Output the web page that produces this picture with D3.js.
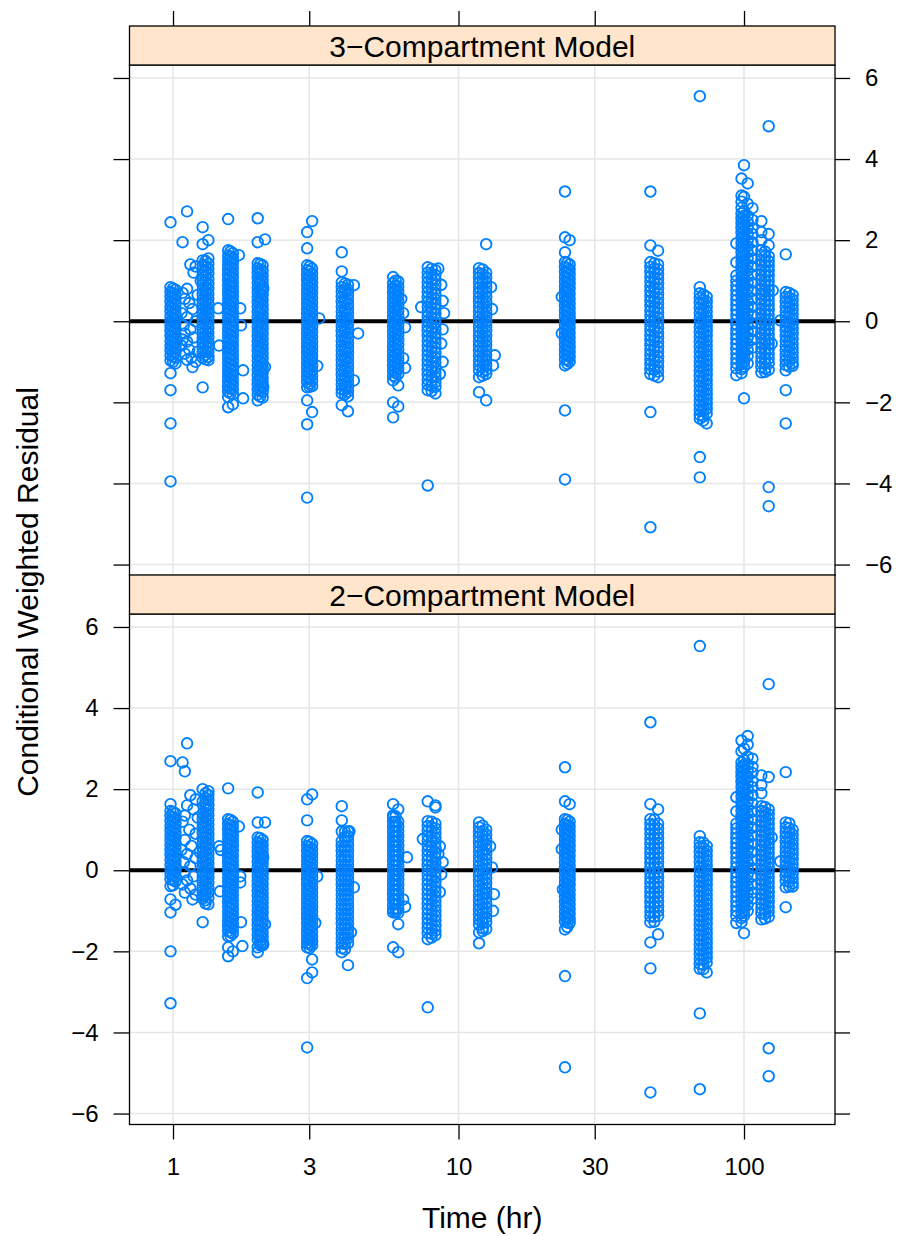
<!DOCTYPE html>
<html>
<head>
<meta charset="utf-8">
<script src="https://cdn.jsdelivr.net/npm/d3@7"></script>
<style>
  body { margin: 0; background: #fff; }
  svg { display: block; }
  text { font-family: "Liberation Sans", Arial, Helvetica, sans-serif; fill: #000; }
</style>
</head>
<body>
<svg id="chart" width="898" height="1236"></svg>
<script>
// Actual sampling times (hr); each column of residuals below belongs to one of these.
const sampleTimes = [0.98, 1.02, 1.27, 1.33, 1.56, 1.62, 1.98, 2.06, 2.95, 3.07, 3.9, 4.1,
  5.9, 6.15, 7.8, 8.3, 11.8, 12.5, 23.6, 24.5, 47, 50, 70, 74, 94, 98, 100, 103, 107, 115, 122, 140, 148];
// Further sampling times falling between the ones above
const midTimes = [1.0, 1.3, 1.59, 2.02, 3.01, 4.0, 6.02, 8.05, 12.15, 24.05, 48.5, 72, 118.5, 144];

// Conditional weighted residuals, 3-compartment fit, one list per sampling time
const cwres3 = [
  [2.44, 0.84, 0.72, 0.6, 0.48, 0.36, 0.25, 0.12, 0.0, -0.12, -0.24, -0.36, -0.48, -0.6, -0.72, -0.84, -0.97, -1.28, -1.70, -2.52, -3.95], // 0.98
  [0.78, 0.66, 0.54, 0.42, 0.3, 0.18, 0.06, -0.06, -0.18, -0.3, -0.42, -0.54, -0.66, -0.78, -0.9, -1.04], // 1.02
  [2.32, 1.9, 1.5, 1.38, 1.26, 1.14, 1.02, 0.9, 0.78, 0.66, 0.54, 0.42, 0.3, 0.18, 0.06, -0.06, -0.18, -0.3, -0.42, -0.54, -0.66, -0.78, -0.9, -1.63], // 1.27
  [2.0, 1.55, 1.42, 1.3, 1.18, 1.05, 0.92, 0.8, 0.68, 0.56, 0.44, 0.32, 0.2, 0.08, -0.04, -0.16, -0.28, -0.4, -0.52, -0.64, -0.76, -0.88, -0.96], // 1.33
  [2.52, 1.75, 1.62, 1.5, 1.38, 1.26, 1.14, 1.02, 0.9, 0.78, 0.66, 0.54, 0.42, 0.3, 0.18, 0.06, -0.06, -0.18, -0.3, -0.42, -0.54, -0.66, -0.78, -0.9, -1.02, -1.14, -1.26, -1.38, -1.5, -1.62, -1.74, -1.87, -2.12], // 1.56
  [1.68, 1.56, 1.44, 1.32, 1.2, 1.08, 0.96, 0.84, 0.72, 0.6, 0.48, 0.36, 0.24, 0.12, 0.0, -0.12, -0.24, -0.36, -0.48, -0.6, -0.72, -0.84, -0.96, -1.08, -1.2, -1.32, -1.44, -1.56, -1.68, -1.8, -2.05], // 1.62
  [2.54, 1.95, 1.43, 1.31, 1.19, 1.07, 0.95, 0.83, 0.71, 0.59, 0.47, 0.35, 0.23, 0.11, -0.01, -0.13, -0.25, -0.37, -0.49, -0.61, -0.73, -0.85, -0.97, -1.09, -1.21, -1.33, -1.45, -1.57, -1.69, -1.81, -1.95], // 1.98
  [1.38, 1.25, 1.13, 1.01, 0.89, 0.77, 0.65, 0.53, 0.41, 0.29, 0.17, 0.05, -0.07, -0.19, -0.31, -0.43, -0.55, -0.67, -0.79, -0.91, -1.03, -1.15, -1.27, -1.39, -1.51, -1.63, -1.75, -1.88], // 2.06
  [2.2, 1.8, 1.38, 1.26, 1.14, 1.02, 0.9, 0.78, 0.66, 0.54, 0.42, 0.3, 0.18, 0.06, -0.06, -0.18, -0.3, -0.42, -0.54, -0.66, -0.78, -0.9, -1.02, -1.14, -1.26, -1.38, -1.5, -1.63, -1.95, -2.54, -4.35], // 2.95
  [2.47, 1.3, 1.18, 1.06, 0.94, 0.82, 0.7, 0.58, 0.46, 0.34, 0.22, 0.1, -0.02, -0.14, -0.26, -0.38, -0.5, -0.62, -0.74, -0.86, -0.98, -1.1, -1.22, -1.34, -1.46, -1.6, -2.24], // 3.07
  [1.7, 1.23, 0.96, 0.84, 0.72, 0.6, 0.48, 0.36, 0.24, 0.12, 0.0, -0.12, -0.24, -0.36, -0.48, -0.6, -0.72, -0.84, -0.96, -1.08, -1.2, -1.32, -1.44, -1.56, -1.68, -1.78, -2.07], // 3.9
  [0.9, 0.78, 0.66, 0.54, 0.42, 0.3, 0.18, 0.06, -0.06, -0.18, -0.3, -0.42, -0.54, -0.66, -0.78, -0.9, -1.02, -1.14, -1.26, -1.38, -1.5, -1.62, -1.74, -1.85, -2.22], // 4.1
  [1.09, 0.94, 0.82, 0.7, 0.58, 0.46, 0.34, 0.22, 0.1, -0.02, -0.14, -0.26, -0.38, -0.5, -0.62, -0.74, -0.86, -0.98, -1.1, -1.22, -1.34, -1.46, -2.0, -2.37], // 5.9
  [0.98, 0.86, 0.74, 0.62, 0.5, 0.38, 0.26, 0.14, 0.02, -0.1, -0.22, -0.34, -0.46, -0.58, -0.7, -0.82, -0.94, -1.06, -1.18, -1.3, -1.58, -2.1], // 6.15
  [1.33, 1.2, 1.08, 0.96, 0.84, 0.72, 0.6, 0.48, 0.36, 0.24, 0.12, 0.0, -0.12, -0.24, -0.36, -0.48, -0.6, -0.72, -0.84, -0.96, -1.08, -1.2, -1.32, -1.44, -1.56, -1.7, -4.05], // 7.8
  [1.26, 1.14, 1.02, 0.9, 0.78, 0.66, 0.54, 0.42, 0.3, 0.18, 0.06, -0.06, -0.18, -0.3, -0.42, -0.54, -0.66, -0.78, -0.9, -1.02, -1.14, -1.26, -1.38, -1.5, -1.62, -1.78], // 8.3
  [1.31, 1.19, 1.07, 0.95, 0.83, 0.71, 0.59, 0.47, 0.35, 0.23, 0.11, -0.01, -0.13, -0.25, -0.37, -0.49, -0.61, -0.73, -0.85, -0.97, -1.09, -1.21, -1.38, -1.75], // 11.8
  [1.9, 1.2, 1.08, 0.96, 0.84, 0.72, 0.6, 0.48, 0.36, 0.24, 0.12, 0.0, -0.12, -0.24, -0.36, -0.48, -0.6, -0.72, -0.84, -0.96, -1.08, -1.2, -1.3, -1.95], // 12.5
  [3.2, 2.07, 1.7, 1.46, 1.34, 1.22, 1.1, 0.98, 0.86, 0.74, 0.62, 0.5, 0.38, 0.26, 0.14, 0.02, -0.1, -0.22, -0.34, -0.46, -0.58, -0.7, -0.82, -0.94, -1.09, -2.2, -3.9], // 23.6
  [2.0, 1.4, 1.28, 1.16, 1.04, 0.92, 0.8, 0.68, 0.56, 0.44, 0.32, 0.2, 0.08, -0.04, -0.16, -0.28, -0.4, -0.52, -0.64, -0.76, -0.88, -1.0], // 24.5
  [3.2, 1.87, 1.46, 1.34, 1.22, 1.1, 0.98, 0.86, 0.74, 0.62, 0.5, 0.38, 0.26, 0.14, 0.02, -0.1, -0.22, -0.34, -0.46, -0.58, -0.7, -0.82, -0.94, -1.06, -1.18, -1.3, -2.24, -5.08], // 47
  [1.74, 1.4, 1.28, 1.16, 1.04, 0.92, 0.8, 0.68, 0.56, 0.44, 0.32, 0.2, 0.08, -0.04, -0.16, -0.28, -0.4, -0.52, -0.64, -0.76, -0.88, -1.0, -1.12, -1.24, -1.38], // 50
  [5.55, 0.84, 0.69, 0.57, 0.45, 0.33, 0.21, 0.09, -0.03, -0.15, -0.27, -0.39, -0.51, -0.63, -0.75, -0.87, -0.99, -1.11, -1.23, -1.35, -1.47, -1.59, -1.71, -1.83, -1.95, -2.07, -2.19, -2.31, -2.4, -3.35, -3.85], // 70
  [0.6, 0.48, 0.36, 0.24, 0.12, 0.0, -0.12, -0.24, -0.36, -0.48, -0.6, -0.72, -0.84, -0.96, -1.08, -1.2, -1.32, -1.44, -1.56, -1.68, -1.8, -1.92, -2.04, -2.16, -2.28, -2.52], // 74
  [1.92, 1.45, 1.13, 1.0, 0.88, 0.76, 0.64, 0.52, 0.4, 0.28, 0.16, 0.04, -0.08, -0.2, -0.32, -0.44, -0.56, -0.68, -0.8, -0.92, -1.04, -1.16, -1.33], // 94
  [3.52, 3.1, 2.95, 2.8, 2.66, 2.54, 2.42, 2.3, 2.18, 2.06, 1.94, 1.82, 1.7, 1.58, 1.46, 1.34, 1.22, 1.1, 0.98, 0.86, 0.74, 0.62, 0.5, 0.38, 0.26, 0.14, 0.02, -0.1, -0.22, -0.34, -0.46, -0.58, -0.7, -0.82, -0.94, -1.06, -1.18, -1.28], // 98
  [3.85, 3.07, 2.72, 2.6, 2.48, 2.36, 2.24, 2.12, 2.0, 1.88, 1.76, 1.64, 1.52, 1.4, 1.28, 1.16, 1.04, 0.92, 0.8, 0.68, 0.56, 0.44, 0.32, 0.2, 0.08, -0.04, -0.16, -0.28, -0.4, -0.52, -0.64, -0.76, -0.88, -1.0, -1.12, -1.9], // 100
  [3.4, 2.9, 2.6, 2.45, 2.3, 2.15, 2.0, 1.85, 1.7, 1.55, 1.4, 1.25, 1.1, 0.95, 0.8, 0.65, 0.5, 0.35, 0.2, 0.05, -0.1, -0.25, -0.4, -0.55, -0.7, -0.85, -1.04], // 103
  [2.79, 2.5, 2.3, 2.15, 1.95, 1.75, 1.55, 1.35, 1.15, 0.95, 0.75, 0.55, 0.35, 0.15, -0.05, -0.25, -0.45, -0.65], // 107
  [2.47, 2.2, 2.0, 1.75, 1.63, 1.51, 1.39, 1.27, 1.15, 1.03, 0.91, 0.79, 0.67, 0.55, 0.43, 0.31, 0.19, 0.07, -0.05, -0.17, -0.29, -0.41, -0.53, -0.65, -0.77, -0.89, -1.01, -1.13, -1.26], // 115
  [4.81, 2.15, 1.87, 1.6, 1.48, 1.36, 1.24, 1.12, 1.0, 0.88, 0.76, 0.64, 0.52, 0.4, 0.28, 0.16, 0.04, -0.08, -0.2, -0.32, -0.44, -0.56, -0.68, -0.8, -0.92, -1.04, -1.2, -4.09, -4.56], // 122
  [1.65, 0.72, 0.6, 0.48, 0.36, 0.24, 0.12, 0.0, -0.12, -0.24, -0.36, -0.48, -0.6, -0.72, -0.84, -0.96, -1.08, -1.21, -1.7, -2.52], // 140
  [0.65, 0.53, 0.41, 0.29, 0.17, 0.05, -0.07, -0.19, -0.31, -0.43, -0.55, -0.67, -0.79, -0.91, -1.03, -1.1] // 148
];

// 3-compartment residuals at the in-between times (same order as midTimes)
const cwres3Mid = [
  [0.81, 0.69, 0.58, 0.45, 0.33, 0.2, 0.09, -0.03, -0.15, -0.27, -0.4, -0.51, -0.63, -0.76, -0.87, -1.0], // 1.0
  [1.49, 1.36, 1.24, 1.11, 0.99, 0.86, 0.74, 0.62, 0.5, 0.37, 0.26, 0.14, 0.03, -0.1, -0.22, -0.35, -0.46, -0.58, -0.71, -0.83, -0.94], // 1.3
  [1.72, 1.59, 1.47, 1.35, 1.23, 1.1, 0.97, 0.87, 0.74, 0.63, 0.5, 0.39, 0.27, 0.14, 0.03, -0.09, -0.21, -0.33, -0.45, -0.58, -0.69, -0.81, -0.93, -1.05, -1.17, -1.3, -1.41, -1.53, -1.66, -1.78], // 1.59
  [1.41, 1.27, 1.17, 1.03, 0.93, 0.79, 0.69, 0.55, 0.45, 0.31, 0.21, 0.07, -0.03, -0.17, -0.27, -0.41, -0.51, -0.65, -0.75, -0.89, -0.99, -1.13, -1.23, -1.37, -1.47, -1.61, -1.71, -1.86], // 2.02
  [1.35, 1.23, 1.1, 0.99, 0.86, 0.75, 0.62, 0.51, 0.38, 0.27, 0.14, 0.03, -0.1, -0.21, -0.34, -0.45, -0.58, -0.69, -0.82, -0.93, -1.06, -1.17, -1.3, -1.41, -1.54, -1.62], // 3.01
  [0.93, 0.8, 0.7, 0.56, 0.46, 0.32, 0.22, 0.08, -0.02, -0.16, -0.26, -0.4, -0.5, -0.64, -0.74, -0.88, -0.98, -1.12, -1.22, -1.36, -1.46, -1.6, -1.7, -1.8], // 4.0
  [1.0, 0.88, 0.77, 0.64, 0.53, 0.4, 0.29, 0.16, 0.05, -0.08, -0.19, -0.32, -0.43, -0.56, -0.67, -0.8, -0.91, -1.04, -1.15, -1.28, -1.39], // 6.02
  [1.29, 1.17, 1.04, 0.93, 0.8, 0.69, 0.56, 0.45, 0.32, 0.21, 0.08, -0.03, -0.16, -0.27, -0.4, -0.51, -0.64, -0.75, -0.88, -0.99, -1.12, -1.23, -1.36, -1.47, -1.6, -1.72], // 8.05
  [1.28, 1.16, 1.03, 0.92, 0.79, 0.68, 0.55, 0.44, 0.31, 0.2, 0.07, -0.04, -0.17, -0.28, -0.41, -0.52, -0.65, -0.76, -0.89, -1.0, -1.13, -1.25, -1.34], // 12.15
  [1.44, 1.31, 1.2, 1.07, 0.96, 0.83, 0.72, 0.59, 0.48, 0.35, 0.24, 0.11, 0.0, -0.13, -0.24, -0.37, -0.48, -0.61, -0.72, -0.85, -0.96, -1.05], // 24.05
  [1.43, 1.3, 1.2, 1.06, 0.96, 0.82, 0.72, 0.58, 0.48, 0.34, 0.24, 0.1, 0.0, -0.14, -0.24, -0.38, -0.48, -0.62, -0.72, -0.86, -0.96, -1.1, -1.2, -1.34], // 48.5
  [0.66, 0.53, 0.43, 0.29, 0.19, 0.05, -0.05, -0.19, -0.29, -0.43, -0.53, -0.67, -0.77, -0.91, -1.01, -1.15, -1.25, -1.39, -1.49, -1.63, -1.73, -1.87, -1.97, -2.11, -2.21, -2.35, -2.45], // 72
  [1.72, 1.6, 1.47, 1.36, 1.23, 1.12, 0.99, 0.88, 0.75, 0.64, 0.51, 0.4, 0.27, 0.16, 0.03, -0.08, -0.21, -0.32, -0.45, -0.56, -0.69, -0.8, -0.93, -1.04, -1.17, -1.25], // 118.5
  [0.7, 0.58, 0.45, 0.34, 0.21, 0.1, -0.03, -0.14, -0.27, -0.38, -0.51, -0.62, -0.75, -0.86, -0.99, -1.12] // 144
];

// Samples taken away from the scheduled times, 3-compartment fit: [time, residual]
const offSchedule3 = [
  [1.12, 2.71], [1.08, 1.95], [1.15, 1.4], [1.2, 1.35], [1.18, 1.2], [1.25, 1.0], [1.12, 0.8], [1.08, 0.7],
  [1.22, 0.65], [1.1, 0.55], [1.14, 0.45], [1.17, 0.3], [1.07, 0.2], [1.12, 0.1], [1.2, 0.0], [1.09, -0.1],
  [1.15, -0.2], [1.1, -0.3], [1.18, -0.4], [1.08, -0.45], [1.12, -0.5], [1.07, -0.6], [1.14, -0.7],
  [1.22, -0.75], [1.1, -0.8], [1.16, -0.9], [1.12, -0.95], [1.2, -1.0], [1.17, -1.13],
  [1.7, 1.63], [1.72, 0.32], [1.73, -0.1], [1.45, -0.6], [1.44, 0.32], [1.76, -1.21], [1.76, -1.9],
  [2.1, 2.02], [2.07, 0.8], [2.1, -1.13], [2.07, -1.63],
  [3.25, 0.07], [3.2, -1.1],
  [4.3, 0.89], [4.45, -0.3], [4.3, -1.46],
  [6.3, 0.55], [6.4, 0.2], [6.5, -0.15], [6.4, -0.91], [6.5, -1.15],
  [8.5, 1.3], [7.4, 0.35], [8.7, 0.9], [8.8, 0.5], [8.9, 0.2], [8.8, -0.2], [8.7, -0.55], [8.8, -1.0], [8.6, -1.3],
  [13.0, 0.84], [13.1, 0.3], [13.4, -0.84], [13.2, -1.09],
  [23.0, 0.6], [23.0, -0.3],
  [126, 0.76], [125, -0.55],
  [134, 0.02]
];

// Conditional weighted residuals, 2-compartment fit, one list per sampling time
const cwres2 = [
  [2.69, 1.63, 1.46, 1.34, 1.22, 1.1, 0.98, 0.86, 0.74, 0.62, 0.5, 0.38, 0.26, 0.14, 0.02, -0.1, -0.22, -0.39, -0.72, -1.04, -2.0, -3.28], // 0.98
  [1.4, 1.28, 1.16, 1.04, 0.92, 0.8, 0.68, 0.56, 0.44, 0.32, 0.2, 0.08, -0.04, -0.16, -0.28, -0.85], // 1.02
  [2.0, 1.7, 1.4, 1.28, 1.16, 1.04, 0.92, 0.8, 0.68, 0.56, 0.44, 0.32, 0.2, 0.08, -0.04, -0.16, -0.28, -0.4, -0.52, -0.64, -0.7, -1.28], // 1.27
  [1.95, 1.85, 1.73, 1.61, 1.49, 1.37, 1.25, 1.13, 1.01, 0.89, 0.77, 0.65, 0.53, 0.41, 0.29, 0.17, 0.05, -0.07, -0.19, -0.31, -0.43, -0.55, -0.67, -0.84], // 1.33
  [2.02, 1.26, 1.14, 1.02, 0.9, 0.78, 0.66, 0.54, 0.42, 0.3, 0.18, 0.06, -0.06, -0.18, -0.3, -0.42, -0.54, -0.66, -0.78, -0.9, -1.02, -1.14, -1.26, -1.38, -1.5, -1.63, -1.9, -2.12], // 1.56
  [1.2, 1.08, 0.96, 0.84, 0.72, 0.6, 0.48, 0.36, 0.24, 0.12, 0.0, -0.12, -0.24, -0.36, -0.48, -0.6, -0.72, -0.84, -0.96, -1.08, -1.2, -1.32, -1.44, -1.56, -2.0], // 1.62
  [1.92, 1.18, 0.81, 0.69, 0.57, 0.45, 0.33, 0.21, 0.09, -0.03, -0.15, -0.27, -0.39, -0.51, -0.63, -0.75, -0.87, -0.99, -1.11, -1.23, -1.35, -1.47, -1.59, -1.71, -1.9, -2.02], // 1.98
  [0.75, 0.63, 0.51, 0.39, 0.27, 0.15, 0.03, -0.09, -0.21, -0.33, -0.45, -0.57, -0.69, -0.81, -0.93, -1.05, -1.17, -1.29, -1.41, -1.53, -1.65, -1.77, -1.85], // 2.06
  [1.75, 1.23, 0.72, 0.6, 0.48, 0.36, 0.24, 0.12, 0.0, -0.12, -0.24, -0.36, -0.48, -0.6, -0.72, -0.84, -0.96, -1.08, -1.2, -1.32, -1.44, -1.56, -1.68, -1.8, -1.9, -2.66, -4.37], // 2.95
  [1.87, 0.65, 0.53, 0.41, 0.29, 0.17, 0.05, -0.07, -0.19, -0.31, -0.43, -0.55, -0.67, -0.79, -0.91, -1.03, -1.15, -1.27, -1.39, -1.51, -1.63, -1.75, -1.85, -2.2, -2.52], // 3.07
  [1.58, 1.23, 0.96, 0.72, 0.6, 0.48, 0.36, 0.24, 0.12, 0.0, -0.12, -0.24, -0.36, -0.48, -0.6, -0.72, -0.84, -0.96, -1.08, -1.2, -1.32, -1.44, -1.56, -1.68, -1.8, -1.92, -2.02], // 3.9
  [0.96, 0.84, 0.72, 0.6, 0.48, 0.36, 0.24, 0.12, 0.0, -0.12, -0.24, -0.36, -0.48, -0.6, -0.72, -0.84, -0.96, -1.08, -1.2, -1.32, -1.44, -1.56, -1.68, -1.8, -2.34], // 4.1
  [1.63, 1.35, 1.31, 1.19, 1.07, 0.95, 0.83, 0.71, 0.59, 0.47, 0.35, 0.23, 0.11, -0.01, -0.13, -0.25, -0.37, -0.49, -0.61, -0.73, -0.85, -0.97, -1.04, -1.9], // 5.9
  [1.5, 1.2, 1.08, 0.96, 0.84, 0.72, 0.6, 0.48, 0.36, 0.24, 0.12, 0.0, -0.12, -0.24, -0.36, -0.48, -0.6, -0.72, -0.84, -0.96, -1.05, -1.33, -2.02], // 6.15
  [1.7, 1.21, 1.09, 0.97, 0.85, 0.73, 0.61, 0.49, 0.37, 0.25, 0.13, 0.01, -0.11, -0.23, -0.35, -0.47, -0.59, -0.71, -0.83, -0.95, -1.07, -1.19, -1.31, -1.43, -1.55, -1.7, -3.38], // 7.8
  [1.6, 1.55, 1.15, 1.03, 0.91, 0.79, 0.67, 0.55, 0.43, 0.31, 0.19, 0.07, -0.05, -0.17, -0.29, -0.41, -0.53, -0.65, -0.77, -0.89, -1.01, -1.13, -1.25, -1.37, -1.49, -1.6], // 8.3
  [1.18, 1.06, 0.94, 0.82, 0.7, 0.58, 0.46, 0.34, 0.22, 0.1, -0.02, -0.14, -0.26, -0.38, -0.5, -0.62, -0.74, -0.86, -0.98, -1.1, -1.22, -1.34, -1.53, -1.8], // 11.8
  [1.0, 0.88, 0.76, 0.64, 0.52, 0.4, 0.28, 0.16, 0.04, -0.08, -0.2, -0.32, -0.44, -0.56, -0.68, -0.8, -0.92, -1.04, -1.16, -1.28, -1.45], // 12.5
  [2.54, 1.7, 1.26, 1.14, 1.02, 0.9, 0.78, 0.66, 0.54, 0.42, 0.3, 0.18, 0.06, -0.06, -0.18, -0.3, -0.42, -0.54, -0.66, -0.78, -0.9, -1.02, -1.14, -1.26, -1.46, -2.61, -4.86], // 23.6
  [1.63, 1.2, 1.08, 0.96, 0.84, 0.72, 0.6, 0.48, 0.36, 0.24, 0.12, 0.0, -0.12, -0.24, -0.36, -0.48, -0.6, -0.72, -0.84, -0.96, -1.08, -1.2, -1.3], // 24.5
  [3.65, 1.63, 1.26, 1.14, 1.02, 0.9, 0.78, 0.66, 0.54, 0.42, 0.3, 0.18, 0.06, -0.06, -0.18, -0.3, -0.42, -0.54, -0.66, -0.78, -0.9, -1.02, -1.14, -1.28, -1.78, -2.42, -5.48], // 47
  [1.5, 1.15, 1.03, 0.91, 0.79, 0.67, 0.55, 0.43, 0.31, 0.19, 0.07, -0.05, -0.17, -0.29, -0.41, -0.53, -0.65, -0.77, -0.89, -1.01, -1.13, -1.58], // 50
  [5.53, 0.84, 0.69, 0.57, 0.45, 0.33, 0.21, 0.09, -0.03, -0.15, -0.27, -0.39, -0.51, -0.63, -0.75, -0.87, -0.99, -1.11, -1.23, -1.35, -1.47, -1.59, -1.71, -1.83, -1.95, -2.07, -2.19, -2.31, -2.43, -3.53, -5.4], // 70
  [0.6, 0.48, 0.36, 0.24, 0.12, 0.0, -0.12, -0.24, -0.36, -0.48, -0.6, -0.72, -0.84, -0.96, -1.08, -1.2, -1.32, -1.44, -1.56, -1.68, -1.8, -1.92, -2.04, -2.16, -2.28, -2.52], // 74
  [1.8, 1.45, 1.15, 1.03, 0.91, 0.79, 0.67, 0.55, 0.43, 0.31, 0.19, 0.07, -0.05, -0.17, -0.29, -0.41, -0.53, -0.65, -0.77, -0.89, -1.01, -1.13, -1.3], // 94
  [3.2, 2.93, 2.66, 2.54, 2.42, 2.3, 2.18, 2.06, 1.94, 1.82, 1.7, 1.58, 1.46, 1.34, 1.22, 1.1, 0.98, 0.86, 0.74, 0.62, 0.5, 0.38, 0.26, 0.14, 0.02, -0.1, -0.22, -0.34, -0.46, -0.58, -0.7, -0.82, -0.94, -1.06, -1.18, -1.28], // 98
  [3.0, 2.72, 2.6, 2.48, 2.36, 2.24, 2.12, 2.0, 1.88, 1.76, 1.64, 1.52, 1.4, 1.28, 1.16, 1.04, 0.92, 0.8, 0.68, 0.56, 0.44, 0.32, 0.2, 0.08, -0.04, -0.16, -0.28, -0.4, -0.52, -0.64, -0.76, -0.88, -1.0, -1.12, -1.55], // 100
  [3.31, 3.1, 2.8, 2.6, 2.45, 2.3, 2.15, 2.0, 1.85, 1.7, 1.55, 1.4, 1.25, 1.1, 0.95, 0.8, 0.65, 0.5, 0.35, 0.2, 0.05, -0.1, -0.25, -0.4, -0.55, -0.7, -0.85, -1.0], // 103
  [2.75, 2.55, 2.4, 2.2, 2.05, 1.85, 1.65, 1.45, 1.25, 1.05, 0.85, 0.65, 0.45, 0.25, 0.05, -0.15, -0.35, -0.55, -0.7], // 107
  [2.34, 2.1, 1.9, 1.58, 1.46, 1.34, 1.22, 1.1, 0.98, 0.86, 0.74, 0.62, 0.5, 0.38, 0.26, 0.14, 0.02, -0.1, -0.22, -0.34, -0.46, -0.58, -0.7, -0.82, -0.94, -1.06, -1.21], // 115
  [4.59, 2.3, 1.5, 1.38, 1.26, 1.14, 1.02, 0.9, 0.78, 0.66, 0.54, 0.42, 0.3, 0.18, 0.06, -0.06, -0.18, -0.3, -0.42, -0.54, -0.66, -0.78, -0.9, -1.02, -1.15, -4.39, -5.08], // 122
  [2.42, 1.18, 1.06, 0.94, 0.82, 0.7, 0.58, 0.46, 0.34, 0.22, 0.1, -0.02, -0.14, -0.26, -0.42, -0.91], // 140
  [1.0, 0.88, 0.76, 0.64, 0.52, 0.4, 0.28, 0.16, 0.04, -0.08, -0.2, -0.32, -0.4] // 148
];

// 2-compartment residuals at the in-between times (same order as midTimes)
const cwres2Mid = [
  [1.44, 1.31, 1.2, 1.07, 0.96, 0.83, 0.72, 0.59, 0.48, 0.35, 0.24, 0.11, 0.0, -0.13, -0.24, -0.37], // 1.0
  [1.9, 1.78, 1.66, 1.55, 1.42, 1.31, 1.18, 1.07, 0.94, 0.83, 0.7, 0.59, 0.46, 0.35, 0.22, 0.11, -0.02, -0.13, -0.26, -0.37, -0.5, -0.61, -0.74, -0.82], // 1.3
  [1.24, 1.11, 1.0, 0.87, 0.76, 0.63, 0.52, 0.39, 0.28, 0.15, 0.04, -0.09, -0.2, -0.33, -0.44, -0.57, -0.68, -0.81, -0.92, -1.05, -1.16, -1.29, -1.4, -1.53, -1.62], // 1.59
  [0.79, 0.66, 0.55, 0.42, 0.31, 0.18, 0.07, -0.06, -0.17, -0.3, -0.41, -0.54, -0.65, -0.78, -0.89, -1.02, -1.13, -1.26, -1.37, -1.5, -1.61, -1.74, -1.85], // 2.02
  [0.7, 0.57, 0.46, 0.33, 0.22, 0.09, -0.02, -0.15, -0.26, -0.39, -0.5, -0.63, -0.74, -0.87, -0.98, -1.11, -1.22, -1.35, -1.46, -1.59, -1.7, -1.83, -1.92], // 3.01
  [0.95, 0.82, 0.71, 0.58, 0.47, 0.34, 0.23, 0.1, -0.01, -0.14, -0.25, -0.38, -0.49, -0.62, -0.73, -0.86, -0.97, -1.1, -1.21, -1.34, -1.45, -1.58, -1.69, -1.82, -1.95], // 4.0
  [1.33, 1.2, 1.09, 0.96, 0.85, 0.72, 0.61, 0.48, 0.37, 0.24, 0.13, 0.0, -0.11, -0.24, -0.35, -0.48, -0.59, -0.72, -0.83, -0.96, -1.04], // 6.02
  [1.2, 1.07, 0.96, 0.83, 0.72, 0.59, 0.48, 0.35, 0.24, 0.11, 0.0, -0.13, -0.24, -0.37, -0.48, -0.61, -0.72, -0.85, -0.96, -1.09, -1.2, -1.33, -1.44, -1.57, -1.66], // 8.05
  [1.1, 0.97, 0.86, 0.73, 0.62, 0.49, 0.38, 0.25, 0.14, 0.01, -0.1, -0.23, -0.34, -0.47, -0.58, -0.71, -0.82, -0.95, -1.06, -1.19, -1.3, -1.43, -1.5], // 12.15
  [1.24, 1.11, 1.0, 0.87, 0.76, 0.63, 0.52, 0.39, 0.28, 0.15, 0.04, -0.09, -0.2, -0.33, -0.44, -0.57, -0.68, -0.81, -0.92, -1.05, -1.16, -1.29, -1.4], // 24.05
  [1.25, 1.12, 1.01, 0.88, 0.77, 0.64, 0.53, 0.4, 0.29, 0.16, 0.05, -0.08, -0.19, -0.32, -0.43, -0.56, -0.67, -0.8, -0.91, -1.04, -1.15, -1.27], // 48.5
  [0.68, 0.55, 0.44, 0.31, 0.2, 0.07, -0.04, -0.17, -0.28, -0.41, -0.52, -0.65, -0.76, -0.89, -1.0, -1.13, -1.24, -1.37, -1.48, -1.61, -1.72, -1.85, -1.96, -2.09, -2.2, -2.33, -2.44], // 72
  [1.56, 1.43, 1.32, 1.19, 1.08, 0.95, 0.84, 0.71, 0.6, 0.47, 0.36, 0.23, 0.12, -0.01, -0.12, -0.25, -0.36, -0.49, -0.6, -0.73, -0.84, -0.97, -1.08, -1.19], // 118.5
  [1.16, 1.03, 0.92, 0.79, 0.68, 0.55, 0.44, 0.31, 0.2, 0.07, -0.04, -0.17, -0.28, -0.4] // 144
];

// Samples taken away from the scheduled times, 2-compartment fit: [time, residual]
const offSchedule2 = [
  [1.12, 3.13], [1.08, 2.66], [1.1, 2.44], [1.15, 1.85], [1.2, 1.75], [1.12, 1.6], [1.18, 1.5], [1.1, 1.35],
  [1.22, 1.3], [1.08, 1.2], [1.14, 1.0], [1.2, 0.9], [1.1, 0.75], [1.16, 0.6], [1.07, 0.5], [1.24, 0.45],
  [1.12, 0.4], [1.2, 0.3], [1.09, 0.2], [1.15, 0.1], [1.1, -0.05], [1.18, -0.15], [1.12, -0.25],
  [1.08, -0.35], [1.15, -0.45], [1.1, -0.55], [1.2, -0.6], [1.17, -0.72],
  [1.7, 1.08], [1.72, -0.15], [1.72, -0.3], [1.73, -1.28], [1.75, -1.87], [1.45, 0.59], [1.46, -0.52], [1.47, 0.5],
  [2.1, 1.18], [2.07, 0.32], [2.1, -1.33], [2.07, -1.83],
  [3.2, -0.15], [3.15, -1.3],
  [4.15, 0.96], [4.3, -0.42], [4.2, -1.53],
  [6.6, 0.32], [6.4, -0.72], [6.5, -0.9],
  [7.5, 0.77], [8.6, 0.59], [8.5, 0.4], [8.8, 0.2], [8.7, -0.1], [8.6, -0.54],
  [12.9, 0.59], [13.1, 0.07], [13.3, -0.59], [13.2, -1.0],
  [23.0, 1.0], [23.0, 0.52], [23.2, -0.47],
  [125, 0.81],
  [134, 0.22]
];

const xTicks = [1, 3, 10, 30, 100];
const yTicks = [-6, -4, -2, 0, 2, 4, 6];
const panelTitles = ["3\u2212Compartment Model", "2\u2212Compartment Model"];

// ---- layout ----
const svg = d3.select("#chart");
const plotLeft = 129.5, plotRight = 835;
const stripH = 39, plotH = 510.5;
const layout = [
  { stripTop: 26, res: cwres3, mid: cwres3Mid, off: offSchedule3, title: panelTitles[0], first: true },
  { stripTop: 575, res: cwres2, mid: cwres2Mid, off: offSchedule2, title: panelTitles[1], first: false }
];

const x = d3.scaleLog().domain([0.704, 208.3]).range([plotLeft, plotRight]);
const fmt = d => (d < 0 ? "\u2212" + Math.abs(d) : String(d));

function styleAxis(g, fontSize) {
  g.select(".domain").remove();
  g.selectAll(".tick line").attr("stroke", "#000").attr("stroke-width", 1.3);
  g.selectAll(".tick text")
    .attr("fill", "#000")
    .style("font-size", fontSize + "px")
    .style("font-family", '"Liberation Sans", Arial, Helvetica, sans-serif');
}

layout.forEach((p, idx) => {
  const plotTop = p.stripTop + stripH;
  const plotBottom = plotTop + plotH;
  const y = d3.scaleLinear().domain([-6.27, 6.32]).range([plotBottom, plotTop]);

  const clipId = "clip" + idx;
  svg.append("clipPath").attr("id", clipId)
    .append("rect").attr("x", plotLeft).attr("y", plotTop)
    .attr("width", plotRight - plotLeft).attr("height", plotH);

  const panel = svg.append("g");

  // reference grid
  panel.append("g").selectAll("line").data(xTicks).join("line")
    .attr("x1", d => x(d)).attr("x2", d => x(d))
    .attr("y1", plotTop).attr("y2", plotBottom)
    .attr("stroke", "#e6e6e6").attr("stroke-width", 1.5);
  panel.append("g").selectAll("line").data(yTicks).join("line")
    .attr("x1", plotLeft).attr("x2", plotRight)
    .attr("y1", d => y(d)).attr("y2", d => y(d))
    .attr("stroke", "#e6e6e6").attr("stroke-width", 1.5);

  // zero reference line
  panel.append("line")
    .attr("x1", plotLeft).attr("x2", plotRight)
    .attr("y1", y(0)).attr("y2", y(0))
    .attr("stroke", "#000").attr("stroke-width", 4);

  // residual points
  const pts = sampleTimes.flatMap((t, i) => p.res[i].map(v => ({ t, v })))
    .concat(midTimes.flatMap((t, i) => p.mid[i].map(v => ({ t, v }))))
    .concat(p.off.map(([t, v]) => ({ t, v })));
  panel.append("g").attr("clip-path", `url(#${clipId})`)
    .selectAll("circle").data(pts).join("circle")
    .attr("cx", d => x(d.t)).attr("cy", d => y(d.v)).attr("r", 5.3)
    .attr("fill", "none").attr("stroke", "#0080ff").attr("stroke-width", 1.85);

  // panel frame
  panel.append("rect")
    .attr("x", plotLeft).attr("y", plotTop)
    .attr("width", plotRight - plotLeft).attr("height", plotH)
    .attr("fill", "none").attr("stroke", "#000").attr("stroke-width", 1.3);

  // strip
  panel.append("rect")
    .attr("x", plotLeft).attr("y", p.stripTop)
    .attr("width", plotRight - plotLeft).attr("height", stripH)
    .attr("fill", "#ffe5cc").attr("stroke", "#000").attr("stroke-width", 1.3);
  panel.append("text")
    .attr("x", (plotLeft + plotRight) / 2).attr("y", p.stripTop + stripH / 2 + 11)
    .attr("text-anchor", "middle").style("font-size", "30px")
    .text(p.title);

  // axes: labels alternate between panels, ticks on both sides
  const leftAxis = d3.axisLeft(y).tickValues(yTicks).tickSize(16).tickPadding(15)
    .tickFormat(p.first ? "" : fmt);
  const rightAxis = d3.axisRight(y).tickValues(yTicks).tickSize(15).tickPadding(15)
    .tickFormat(p.first ? fmt : "");
  svg.append("g").attr("transform", `translate(${plotLeft},0)`).call(leftAxis).call(g => styleAxis(g, 24));
  svg.append("g").attr("transform", `translate(${plotRight},0)`).call(rightAxis).call(g => styleAxis(g, 24));

  if (p.first) {
    const topAxis = d3.axisTop(x).tickValues(xTicks).tickSize(15).tickFormat("");
    svg.append("g").attr("transform", `translate(0,${p.stripTop})`).call(topAxis).call(g => styleAxis(g, 24));
  } else {
    const bottomAxis = d3.axisBottom(x).tickValues(xTicks).tickSize(15).tickPadding(18)
      .tickFormat(d => String(d));
    svg.append("g").attr("transform", `translate(0,${plotBottom})`).call(bottomAxis).call(g => styleAxis(g, 24));
  }
});

// axis titles
svg.append("text")
  .attr("x", (plotLeft + plotRight) / 2).attr("y", 1228)
  .attr("text-anchor", "middle").style("font-size", "30px")
  .text("Time (hr)");
svg.append("text")
  .attr("transform", "translate(38,592) rotate(-90)")
  .attr("text-anchor", "middle").style("font-size", "30px")
  .text("Conditional Weighted Residual");
</script>
</body>
</html>
